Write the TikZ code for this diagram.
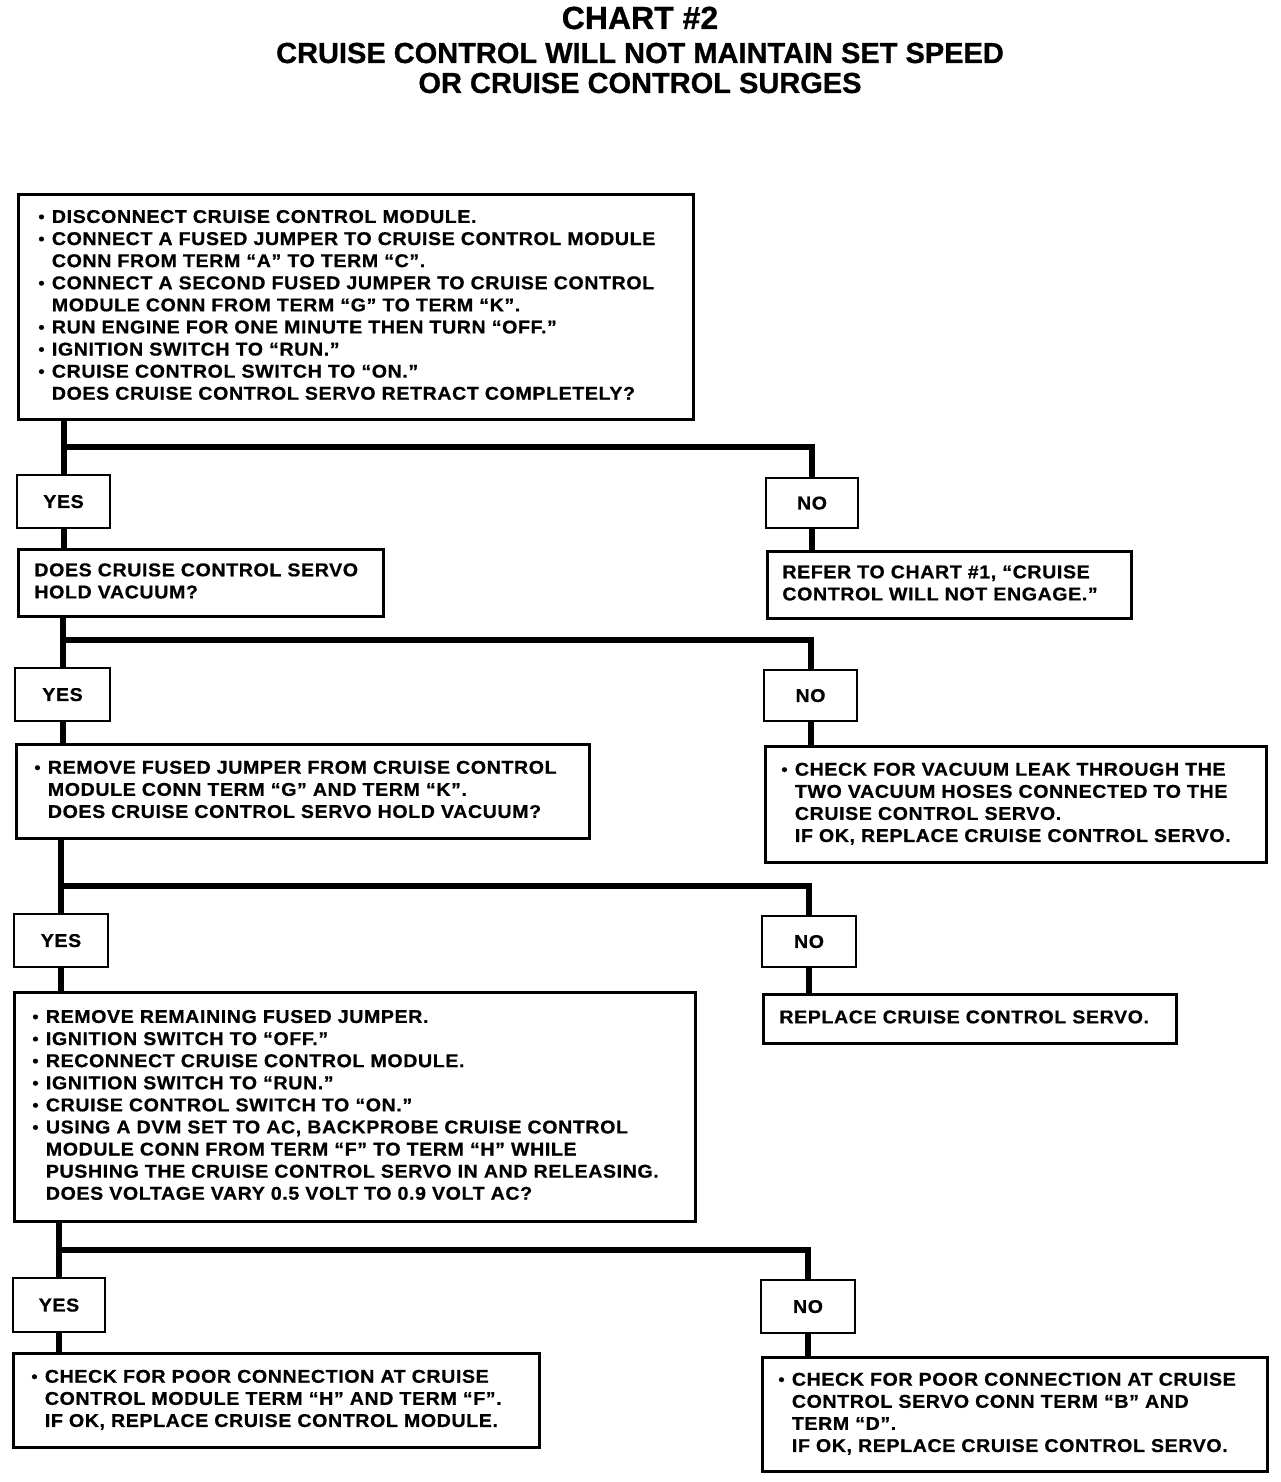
\documentclass[tikz,border=0pt]{standalone}
\usepackage{fontspec}
\usepackage{graphicx}
\newfontfamily\bodyfont{Liberation Sans}[FakeStretch=1.06,LetterSpace=3.2,FakeBold=0.7]
\newfontfamily\titlefont{Liberation Sans}[FakeBold=0.8]
\newcommand\bul{\makebox[12.5pt][l]{\hspace*{-1pt}\raisebox{0.5pt}{\scalebox{0.9}{•}}}}
\newcommand\ind{\hspace*{12.5pt}}
\newcommand\boxtext[2]{\makebox[#1][l]{\begin{tabular}{@{}l@{}}#2\end{tabular}}}
\begin{document}
\begin{tikzpicture}[x=1pt,y=-1pt,
  box/.style={draw, line width=2.8pt, anchor=north west, inner ysep=0pt,
    font=\bodyfont\bfseries\fontsize{18.5}{22.1}\selectfont},
  yn/.style={draw, line width=2.8pt, inner sep=0pt, text depth=-2pt,
    font=\bodyfont\bfseries\fontsize{18.5}{22}\selectfont},
  conn/.style={line width=6pt},
  ttl/.style={anchor=base, inner sep=0pt, font=\titlefont\bfseries}]
\useasboundingbox (0,0) rectangle (1280,1482);
% title
\node[ttl, font=\titlefont\bfseries\fontsize{32}{36}\selectfont] (t1) at (640,29) {CHART \#2};
\node[ttl, font=\titlefont\bfseries\fontsize{29}{33}\selectfont] (t2) at (640,63) {CRUISE CONTROL WILL NOT MAINTAIN SET SPEED};
\node[ttl, font=\titlefont\bfseries\fontsize{29}{33}\selectfont] (t3) at (640,93) {OR CRUISE CONTROL SURGES};
% boxes
\node[box, inner xsep=21pt, minimum height=225pt] (q1) at (17,193) {\boxtext{633pt}{%
\bul DISCONNECT CRUISE CONTROL MODULE.\\
\bul CONNECT A FUSED JUMPER TO CRUISE CONTROL MODULE\\
\ind CONN FROM TERM “A” TO TERM “C”.\\
\bul CONNECT A SECOND FUSED JUMPER TO CRUISE CONTROL\\
\ind MODULE CONN FROM TERM “G” TO TERM “K”.\\
\bul RUN ENGINE FOR ONE MINUTE THEN TURN “OFF.”\\
\bul IGNITION SWITCH TO “RUN.”\\
\bul CRUISE CONTROL SWITCH TO “ON.”\\
\ind DOES CRUISE CONTROL SERVO RETRACT COMPLETELY?}};
\node[yn, minimum width=93pt, minimum height=53pt] (yes1) at (63.5,501.5) {YES};
\node[yn, minimum width=92pt, minimum height=50pt] (no1) at (812,503) {NO};
\node[box, inner xsep=16pt, minimum height=67pt] (q2) at (17,548) {\boxtext{333pt}{%
DOES CRUISE CONTROL SERVO\\
HOLD VACUUM?}};
\node[box, inner xsep=15pt, minimum height=67pt] (r1) at (766,550) {\boxtext{334pt}{%
REFER TO CHART \#1, “CRUISE\\
CONTROL WILL NOT ENGAGE.”}};
\node[yn, minimum width=95pt, minimum height=53pt] (yes2) at (62.5,694.5) {YES};
\node[yn, minimum width=93pt, minimum height=51pt] (no2) at (810.5,695.5) {NO};
\node[box, inner xsep=19pt, minimum height=94pt] (q3) at (15,743) {\boxtext{535pt}{%
\bul REMOVE FUSED JUMPER FROM CRUISE CONTROL\\
\ind MODULE CONN TERM “G” AND TERM “K”.\\
\ind DOES CRUISE CONTROL SERVO HOLD VACUUM?}};
\node[box, inner xsep=17pt, minimum height=116pt] (r2) at (764,745) {\boxtext{467pt}{%
\bul CHECK FOR VACUUM LEAK THROUGH THE\\
\ind TWO VACUUM HOSES CONNECTED TO THE\\
\ind CRUISE CONTROL SERVO.\\
\ind IF OK, REPLACE CRUISE CONTROL SERVO.}};
\node[yn, minimum width=94pt, minimum height=53pt] (yes3) at (61,940.5) {YES};
\node[yn, minimum width=94pt, minimum height=51pt] (no3) at (809,941.5) {NO};
\node[box, inner xsep=19pt, minimum height=229pt] (q4) at (13,991) {\boxtext{643pt}{%
\bul REMOVE REMAINING FUSED JUMPER.\\
\bul IGNITION SWITCH TO “OFF.”\\
\bul RECONNECT CRUISE CONTROL MODULE.\\
\bul IGNITION SWITCH TO “RUN.”\\
\bul CRUISE CONTROL SWITCH TO “ON.”\\
\bul USING A DVM SET TO AC, BACKPROBE CRUISE CONTROL\\
\ind MODULE CONN FROM TERM “F” TO TERM “H” WHILE\\
\ind PUSHING THE CRUISE CONTROL SERVO IN AND RELEASING.\\
\ind DOES VOLTAGE VARY 0.5 VOLT TO 0.9 VOLT AC?}};
\node[box, inner xsep=16pt, minimum height=49pt] (r3) at (762,993) {\boxtext{381pt}{%
REPLACE CRUISE CONTROL SERVO.}};
\node[yn, minimum width=92pt, minimum height=54pt] (yes4) at (59,1305) {YES};
\node[yn, minimum width=94pt, minimum height=53pt] (no4) at (808,1306.5) {NO};
\node[box, inner xsep=19pt, minimum height=94pt] (r4) at (12,1352) {\boxtext{488pt}{%
\bul CHECK FOR POOR CONNECTION AT CRUISE\\
\ind CONTROL MODULE TERM “H” AND TERM “F”.\\
\ind IF OK, REPLACE CRUISE CONTROL MODULE.}};
\node[box, inner xsep=17pt, minimum height=114pt] (r5) at (761,1356) {\boxtext{471pt}{%
\bul CHECK FOR POOR CONNECTION AT CRUISE\\
\ind CONTROL SERVO CONN TERM “B” AND\\
\ind TERM “D”.\\
\ind IF OK, REPLACE CRUISE CONTROL SERVO.}};
% branch levels
\coordinate (br1) at (0,447);
\coordinate (br2) at (0,640);
\coordinate (br3) at (0,886);
\coordinate (br4) at (0,1250);
% connectors
\draw[conn] (q1.south -| yes1.north) -- (yes1.north);
\draw[conn] (yes1.north |- br1) -| (no1.north);
\draw[conn] (yes1.south) -- (yes1.south |- q2.north);
\draw[conn] (no1.south) -- (no1.south |- r1.north);
\draw[conn] (q2.south -| yes2.north) -- (yes2.north);
\draw[conn] (yes2.north |- br2) -| (no2.north);
\draw[conn] (yes2.south) -- (yes2.south |- q3.north);
\draw[conn] (no2.south) -- (no2.south |- r2.north);
\draw[conn] (q3.south -| yes3.north) -- (yes3.north);
\draw[conn] (yes3.north |- br3) -| (no3.north);
\draw[conn] (yes3.south) -- (yes3.south |- q4.north);
\draw[conn] (no3.south) -- (no3.south |- r3.north);
\draw[conn] (q4.south -| yes4.north) -- (yes4.north);
\draw[conn] (yes4.north |- br4) -| (no4.north);
\draw[conn] (yes4.south) -- (yes4.south |- r4.north);
\draw[conn] (no4.south) -- (no4.south |- r5.north);
\end{tikzpicture}
\end{document}
